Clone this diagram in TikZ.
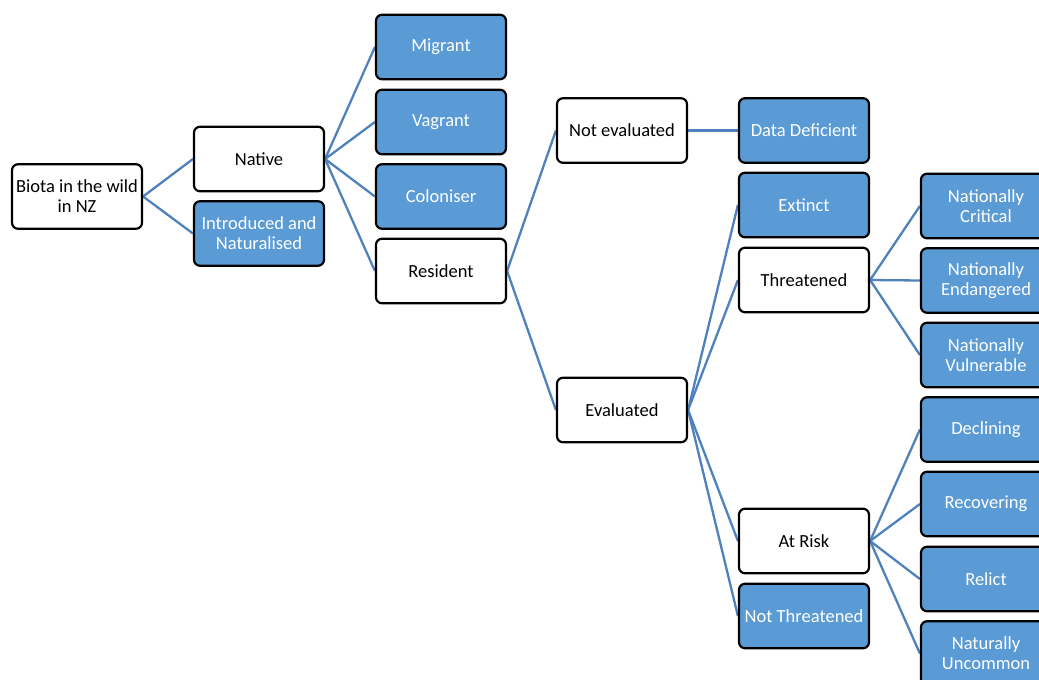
\documentclass[tikz,border=0pt]{standalone}
\usepackage{fontspec}
\setmainfont{Carlito}
\usetikzlibrary{backgrounds}
\definecolor{boxblue}{RGB}{91,155,213}
\definecolor{linkblue}{RGB}{79,129,189}
\tikzset{
  base/.style={draw=black, line width=2.2pt, rounded corners=6pt, minimum width=130pt, minimum height=64.5pt, inner sep=1pt, align=center, font=\fontsize{18.5}{20}\selectfont},
  wbox/.style={base, fill=white, text=black},
  bbox/.style={base, fill=boxblue, text=white},
  link/.style={draw=linkblue, line width=2.3pt}
}
\begin{document}
\begin{tikzpicture}[x=1pt,y=-1pt]
\useasboundingbox (0,0) rectangle (1039,680);
\clip (0,0) rectangle (1039,680);
\node[wbox] (biota) at (77,196.5) {Biota in the wild\\in NZ};
\node[wbox] (native) at (259,159) {Native};
\node[bbox] (intro) at (259,233.5) {Introduced and\\Naturalised};
\node[bbox] (migrant) at (441,47) {Migrant};
\node[bbox] (vagrant) at (441,122) {Vagrant};
\node[bbox] (colon) at (441,196.5) {Coloniser};
\node[wbox] (resident) at (441,271) {Resident};
\node[wbox] (noteval) at (622,130.5) {Not evaluated};
\node[wbox] (eval) at (622,410) {Evaluated};
\node[bbox] (datadef) at (804,130.5) {Data Deficient};
\node[bbox] (extinct) at (804,205) {Extinct};
\node[wbox] (threat) at (804,280) {Threatened};
\node[wbox] (atrisk) at (804,541) {At Risk};
\node[bbox] (notthreat) at (804,616) {Not Threatened};
\node[bbox] (ncrit) at (986,206) {Nationally\\Critical};
\node[bbox] (nend) at (986,280.5) {Nationally\\Endangered};
\node[bbox] (nvul) at (986,355) {Nationally\\Vulnerable};
\node[bbox] (decl) at (986,429.5) {Declining};
\node[bbox] (recov) at (986,504) {Recovering};
\node[bbox] (relict) at (986,579) {Relict};
\node[bbox] (natunc) at (986,653.5) {Naturally\\Uncommon};
\begin{scope}[on background layer]
\foreach \a/\b in {biota/native, biota/intro, native/migrant, native/vagrant, native/colon, native/resident, resident/noteval, resident/eval, noteval/datadef, eval/extinct, eval/threat, eval/atrisk, eval/notthreat, threat/ncrit, threat/nend, threat/nvul, atrisk/decl, atrisk/recov, atrisk/relict, atrisk/natunc}
  \draw[link] (\a.east) -- (\b.west);
\end{scope}
\end{tikzpicture}
\end{document}
